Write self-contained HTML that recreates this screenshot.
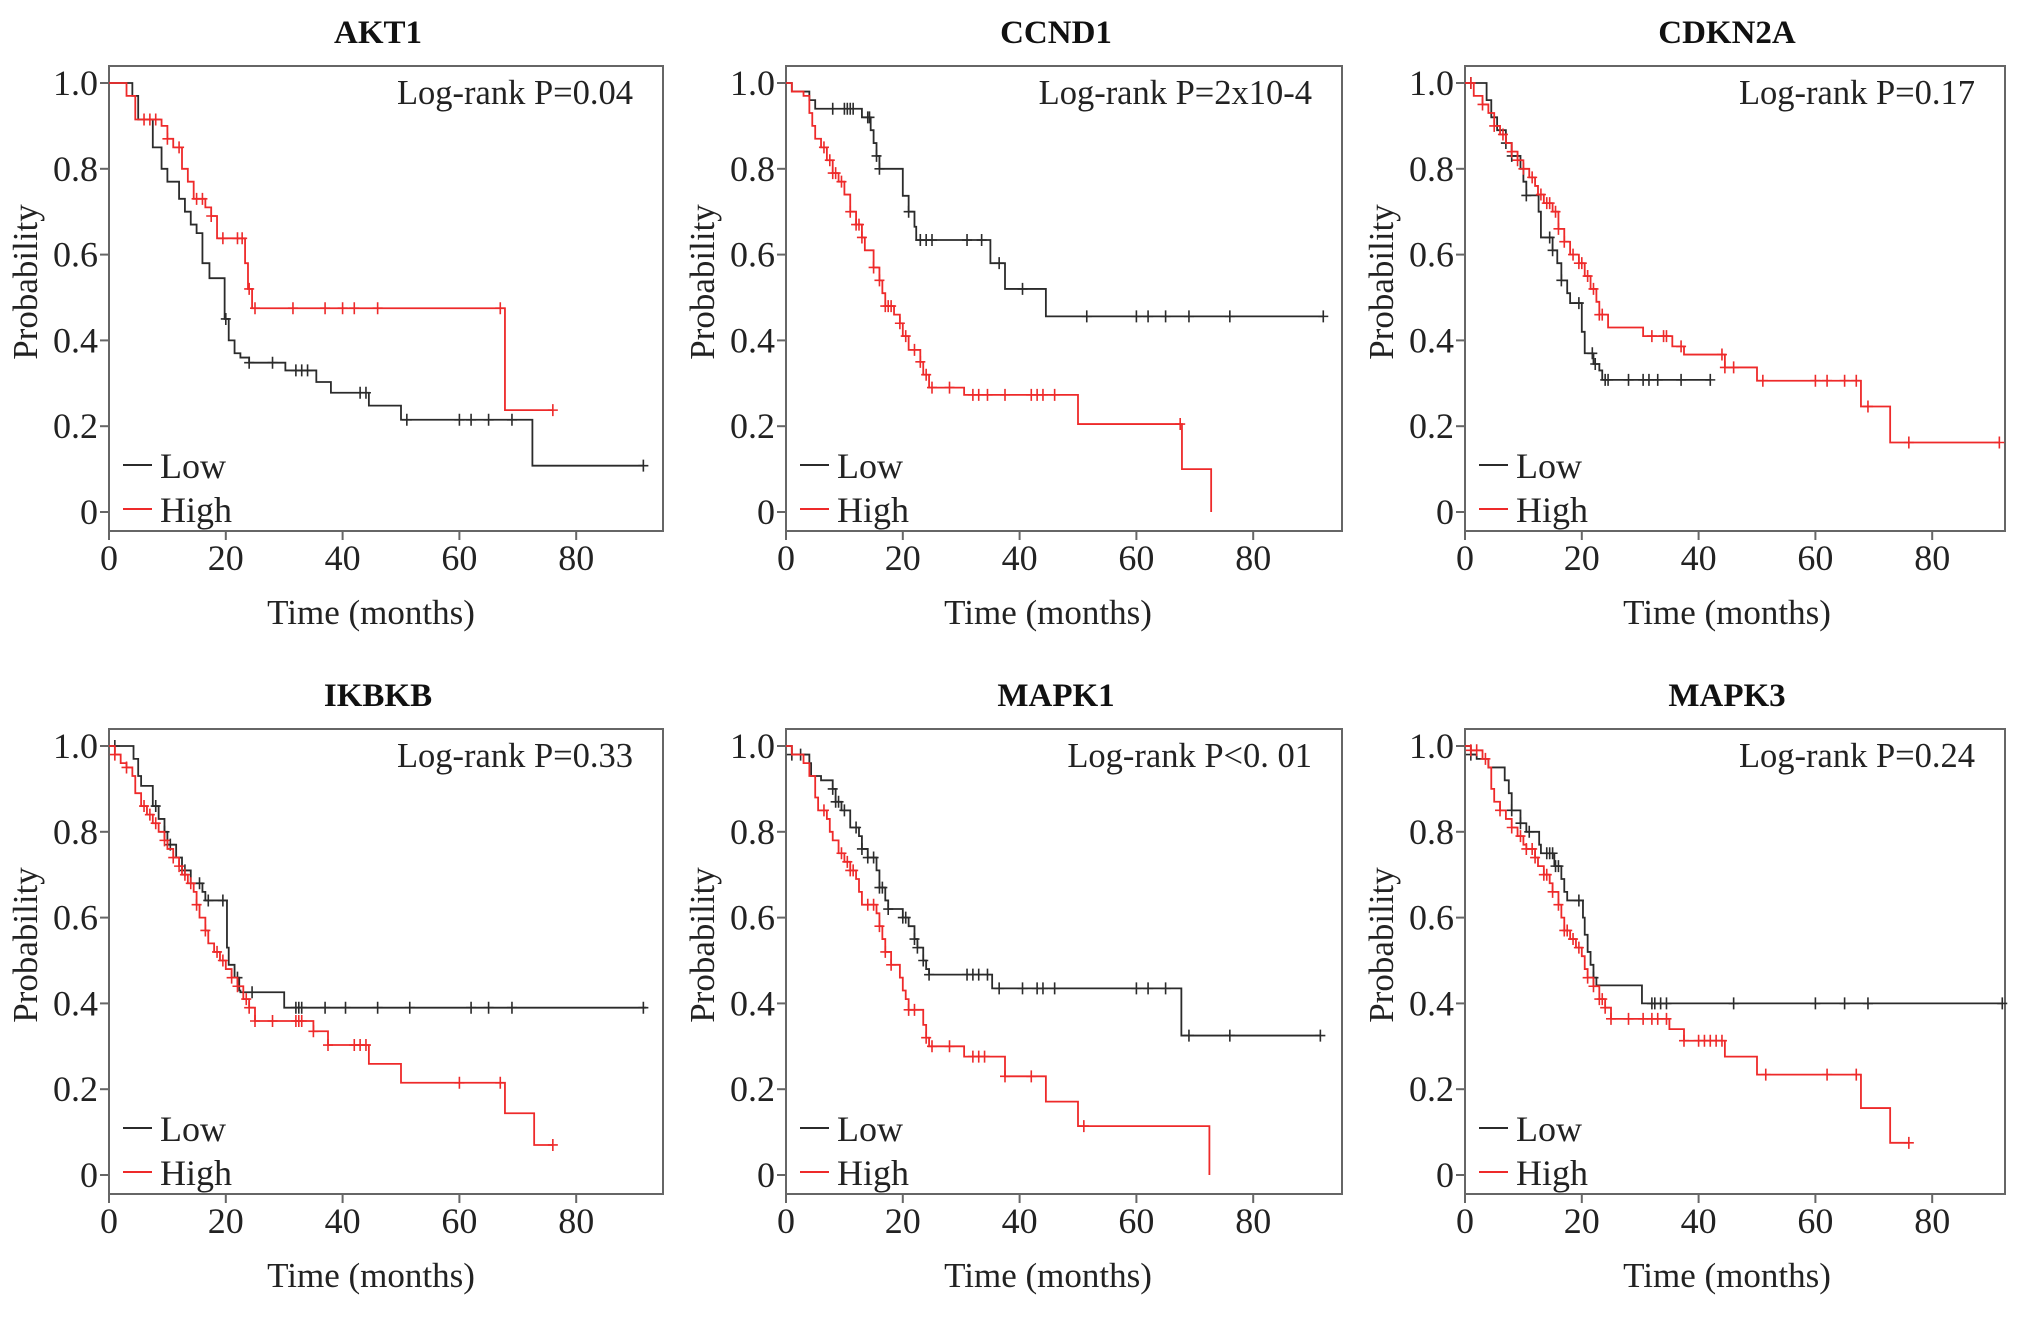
<!DOCTYPE html>
<html><head><meta charset="utf-8"><style>
html,body{margin:0;padding:0;background:#fff;}
svg{display:block;font-family:"Liberation Serif",serif;}
</style></head><body>
<svg id="fig" width="2031" height="1317" viewBox="0 0 2031 1317" xmlns="http://www.w3.org/2000/svg"></svg>
<script>
// ---- data ----
const panelTitles = ["AKT1","CCND1","CDKN2A","IKBKB","MAPK1","MAPK3"];
const pValueLabels = ["Log-rank P=0.04","Log-rank P=2x10-4","Log-rank P=0.17","Log-rank P=0.33","Log-rank P<0. 01","Log-rank P=0.24"];
const xTicks = [0,20,40,60,80];
const yTicks = [0,0.2,0.4,0.6,0.8,1.0];
const yTickLabels = ["0","0.2","0.4","0.6","0.8","1.0"];

// AKT1
const aktLowT = [4,5,7.5,9,10,12,13,14,15,16,17.2,19.8,20.5,21.5,22.5,24,30.2,35.5,38,44.5,50,72.5];
const aktLowS = [0.97,0.915,0.85,0.80,0.77,0.73,0.70,0.67,0.65,0.58,0.545,0.45,0.40,0.37,0.36,0.348,0.33,0.303,0.278,0.248,0.215,0.108];
const aktLowEnd = 91.5;
const aktLowCens = [20,24,28,32,33,34,43,44,51,60,62,65,69,91.5];
const aktHighT = [3,4.5,9,10,11,12.5,13.5,14.5,16.5,17.5,18.5,23.3,23.8,24.5,67.8];
const aktHighS = [0.97,0.915,0.90,0.87,0.85,0.80,0.77,0.73,0.71,0.69,0.638,0.58,0.52,0.475,0.2375];
const aktHighEnd = 76;
const aktHighCens = [6,7,8,10,12,15,16,17.5,19.5,22,22.8,24,25,31.5,37,40,42,46,67,76];
// CCND1
const ccnLowT = [1,4,5,13,14.5,15,15.5,16,20,21,22,22.3,35,37.5,44.5];
const ccnLowS = [0.98,0.96,0.94,0.92,0.89,0.86,0.83,0.80,0.737,0.70,0.665,0.634,0.58,0.52,0.456];
const ccnLowEnd = 92;
const ccnLowCens = [8,10,10.5,11,11.5,14,14.3,15.5,16,21,23,24,25,31,33.5,36.5,40.5,51.5,60,62,65,69,76,92];
const ccnHighT = [1,3,4,4.5,5,6,7,8,9,10,11,12,13,13.5,15,16,16.5,17,18.5,19.5,20,21,23,23.5,24.5,30.5,50,67.8,72.8];
const ccnHighS = [0.98,0.97,0.93,0.90,0.87,0.85,0.82,0.79,0.77,0.74,0.70,0.67,0.64,0.61,0.57,0.54,0.51,0.48,0.46,0.44,0.41,0.378,0.35,0.32,0.29,0.273,0.205,0.10,0];
const ccnHighEnd = 72.8;
const ccnHighCens = [6.5,7.5,8,8.5,9.5,11,12,12.5,13,15,16,17,17.5,18,19.5,20.5,22,23,24,25,28,32,33,34.5,37.5,42,43,44,46,67.5];
// CDKN2A
const cdkLowT = [3.7,4.5,5.5,7,8,9.5,10,10.5,12.6,13,15,15.8,16.5,17.5,18,20,20.5,22,23,23.5];
const cdkLowS = [0.96,0.92,0.89,0.86,0.83,0.80,0.77,0.738,0.70,0.64,0.61,0.58,0.54,0.51,0.487,0.42,0.37,0.345,0.33,0.308];
const cdkLowEnd = 42;
const cdkLowCens = [1,7,8,10.5,14.5,15,16.5,19.5,21.8,22.3,24,24.5,28,30.5,31.5,33,37,42];
const cdkHighT = [1.5,3,4,5,6,7,8,9,10,11,12,12.5,13.5,15,16,17,18,19.5,20.5,21.5,22.5,23,24.5,30.5,35.5,37.5,44.5,50,67.8,72.8];
const cdkHighS = [0.97,0.95,0.93,0.90,0.88,0.86,0.84,0.82,0.80,0.78,0.76,0.74,0.72,0.70,0.66,0.63,0.60,0.58,0.55,0.52,0.49,0.46,0.43,0.41,0.386,0.367,0.337,0.306,0.246,0.162];
const cdkHighEnd = 91.5;
const cdkHighCens = [1,3,5,6.5,8,9,10,11.5,13,14,14.5,15.5,16,17,18.5,19.5,20,21,22,23,23.5,32,34,34.5,37,44,44.5,46,51,60,62,65,67,69,76,91.5];
// IKBKB
const ikbLowT = [4.2,5,5.5,7.5,8.5,9.5,10,11.5,12.5,14,16,16.5,20.2,20.5,21.5,22.3,22.5,30];
const ikbLowS = [0.97,0.93,0.907,0.86,0.83,0.80,0.77,0.74,0.71,0.68,0.66,0.64,0.53,0.49,0.46,0.43,0.426,0.39];
const ikbLowEnd = 92;
const ikbLowCens = [1,8,9.5,10.5,13,15.5,17,19.5,22,24.5,32,32.5,33,37,40.5,46,51.5,62,65,69,91.5];
const ikbHighT = [1,2,3,4,4.5,5.5,6.5,7.5,8.5,9.5,10,11,12,12.5,13.5,14.5,15,15.5,16.5,17,18,19,20,21,22,23,24,25,35,37.5,44.5,50,67.8,72.8];
const ikbHighS = [0.98,0.96,0.95,0.93,0.89,0.86,0.84,0.82,0.80,0.78,0.76,0.74,0.72,0.70,0.68,0.66,0.63,0.60,0.57,0.54,0.52,0.50,0.48,0.46,0.44,0.41,0.39,0.359,0.335,0.303,0.259,0.215,0.144,0.07];
const ikbHighEnd = 76;
const ikbHighCens = [1,3,6,7,8,9.5,11,12,13,14,15,16.5,18.5,19.5,21,22,23.5,24,25,28,32,32.5,33,35,37.5,42,43,44,60,67,76];
// MAPK1
const mk1LowT = [1,4,4.3,6,8,8.5,9.5,11,12.5,13,14,15.5,16,17,17.5,20,21,22,22.5,23.5,24,24.5,35.3,67.7];
const mk1LowS = [0.98,0.96,0.93,0.92,0.90,0.87,0.85,0.81,0.79,0.76,0.74,0.71,0.67,0.64,0.62,0.60,0.58,0.55,0.53,0.50,0.48,0.467,0.435,0.325];
const mk1LowEnd = 91.5;
const mk1LowCens = [1,2.5,8,8.5,9,10,12,13,14,15,16,16.5,17.5,20,20.5,22,22.5,23.5,24.5,31,32,33,34.5,36.5,40.5,43,44,46,60,62,65,69,76,91.5];
const mk1HighT = [1,3,4,5,5.5,7,7.5,8,9,10,11,12,12.5,13,15.5,16,16.5,17,18,19.5,20,20.5,21,23.5,24,24.5,30.5,37.5,44.5,50,72.5];
const mk1HighS = [0.98,0.96,0.93,0.88,0.85,0.83,0.80,0.78,0.75,0.73,0.71,0.69,0.66,0.63,0.61,0.58,0.55,0.52,0.49,0.46,0.43,0.41,0.385,0.35,0.32,0.30,0.276,0.23,0.171,0.114,0];
const mk1HighEnd = 72.5;
const mk1HighCens = [6.5,9.5,10.5,11,11.5,14,15,16,17,18,21,22,24,25,28,32,33,34,37.5,42,51];
// MAPK3
const mk3LowT = [1,2,4,6.8,7.5,8,9.5,10.5,12.7,13,15.3,16.5,17,17.5,20.2,20.5,21,21.5,22,22.5,30.3];
const mk3LowS = [0.98,0.97,0.95,0.92,0.89,0.85,0.82,0.80,0.77,0.75,0.72,0.69,0.66,0.64,0.60,0.56,0.52,0.49,0.46,0.442,0.40];
const mk3LowEnd = 92;
const mk3LowCens = [1,8,9.5,11,14,14.5,15,15.5,16,19.5,22,32,32.5,33.5,34.5,46,60,65,69,92];
const mk3HighT = [1,3,4,4.5,5,6,7,8,9,10,10.5,12,12.5,13.5,14.5,15,16,16.5,17,18,19,20,20.5,21,22,23,24,25,35,37.5,44.5,50,67.8,72.8];
const mk3HighS = [0.99,0.97,0.95,0.90,0.87,0.85,0.83,0.81,0.79,0.77,0.76,0.74,0.72,0.70,0.68,0.66,0.63,0.60,0.57,0.55,0.53,0.51,0.48,0.46,0.44,0.41,0.39,0.364,0.34,0.313,0.276,0.234,0.156,0.075];
const mk3HighEnd = 76;
const mk3HighCens = [1,2,3.5,6,8,9.5,10.5,11.5,12,13.5,14,15,16,17,17.5,18.5,19.5,21,22,23,23.5,24,25,28,30.5,32,33,34.5,37.5,40,41,42,43,44,51.5,62,67,76];

const lowSeries = [
  [aktLowT,aktLowS,aktLowEnd,aktLowCens],[ccnLowT,ccnLowS,ccnLowEnd,ccnLowCens],[cdkLowT,cdkLowS,cdkLowEnd,cdkLowCens],
  [ikbLowT,ikbLowS,ikbLowEnd,ikbLowCens],[mk1LowT,mk1LowS,mk1LowEnd,mk1LowCens],[mk3LowT,mk3LowS,mk3LowEnd,mk3LowCens]];
const highSeries = [
  [aktHighT,aktHighS,aktHighEnd,aktHighCens],[ccnHighT,ccnHighS,ccnHighEnd,ccnHighCens],[cdkHighT,cdkHighS,cdkHighEnd,cdkHighCens],
  [ikbHighT,ikbHighS,ikbHighEnd,ikbHighCens],[mk1HighT,mk1HighS,mk1HighEnd,mk1HighCens],[mk3HighT,mk3HighS,mk3HighEnd,mk3HighCens]];

// ---- layout ----
const frameL = [109,786,1465];
const frameW = [554,556,540];
const frameT = [66,729];
const frameH = 465;
const pxPerMonth = 5.84;
const NS = "http://www.w3.org/2000/svg";
const svg = document.getElementById('fig');

function mk(tag, attrs, parent){
  const e = document.createElementNS(NS, tag);
  for (const k in attrs) e.setAttribute(k, attrs[k]);
  (parent||svg).appendChild(e);
  return e;
}
function survAt(T,S,t){ let s=1; for(let i=0;i<T.length;i++){ if(T[i]<=t) s=S[i]; } return s; }

for (let p=0;p<6;p++){
  const L = frameL[p%3], W = frameW[p%3], T = frameT[Math.floor(p/3)];
  const xs = t => L + t*pxPerMonth;
  const ys = v => T + 17 + (1-v)*429;
  const g = mk('g',{});
  
  

  const title = mk('text',{x:L+W/2-8,y:T-23,'text-anchor':'middle','font-size':33,'font-weight':'bold',fill:'#111'},g);
  title.textContent = panelTitles[p];
  
  

  const frame = mk('rect',{x:L,y:T,width:W,height:frameH,fill:'none',stroke:'#666','stroke-width':2},g);
  
  

  yTicks.forEach((v,i)=>{
    mk('line',{x1:L-9,x2:L,y1:ys(v),y2:ys(v),stroke:'#666','stroke-width':2},g);
    const t = mk('text',{x:L-11,y:ys(v)+12,'text-anchor':'end','font-size':36,fill:'#222'},g);
    t.textContent = yTickLabels[i];
    
    
  });
  xTicks.forEach(v=>{
    mk('line',{x1:xs(v),x2:xs(v),y1:T+frameH,y2:T+frameH+9,stroke:'#666','stroke-width':2},g);
    const t = mk('text',{x:xs(v),y:T+frameH+39,'text-anchor':'middle','font-size':36,fill:'#222'},g);
    t.textContent = String(v);
    
    
  });
  const xl = mk('text',{x:L+262,y:T+558,'text-anchor':'middle','font-size':35,fill:'#222'},g);
  xl.textContent = 'Time (months)';
  
  
  const yl = mk('text',{x:0,y:0,'text-anchor':'middle','font-size':35,fill:'#222',transform:`translate(${L-72},${T+216}) rotate(-90)`},g);
  yl.textContent = 'Probability';
  
  

  const pv = mk('text',{x:L+W-30,y:T+38,'text-anchor':'end','font-size':34.5,fill:'#222'},g);
  pv.textContent = pValueLabels[p];
  
  

  [[lowSeries[p],'#2b2b2b','low'],[highSeries[p],'#ee2a2a','high']].forEach(([ser,col,nm])=>{
    const [Tt,Ss,end,cens] = ser;
    let d = `M${xs(0)},${ys(1)}`;
    for(let i=0;i<Tt.length;i++){ d += ` H${xs(Tt[i])} V${ys(Ss[i])}`; }
    d += ` H${xs(end)}`;
    const path = mk('path',{d:d,fill:'none',stroke:col,'stroke-width':1.8},g);
    
    
    cens.forEach(c=>{
      const cy = ys(survAt(Tt,Ss,c)), cx = xs(c);
      const m = mk('path',{d:`M${cx},${cy-6} V${cy+6} M${cx-5},${cy} H${cx+5}`,stroke:col,'stroke-width':1.6,fill:'none'},g);
      
      
    });
  });

  [['Low','#2b2b2b',399],['High','#ee2a2a',443]].forEach(([lab,col,off])=>{
    const ln = mk('line',{x1:L+14,x2:L+43,y1:T+off,y2:T+off,stroke:col,'stroke-width':2},g);
    
    
    const tx = mk('text',{x:L+51,y:T+off+13,'font-size':36,fill:'#222'},g);
    tx.textContent = lab;
    
    
  });
}
</script>
</body></html>
